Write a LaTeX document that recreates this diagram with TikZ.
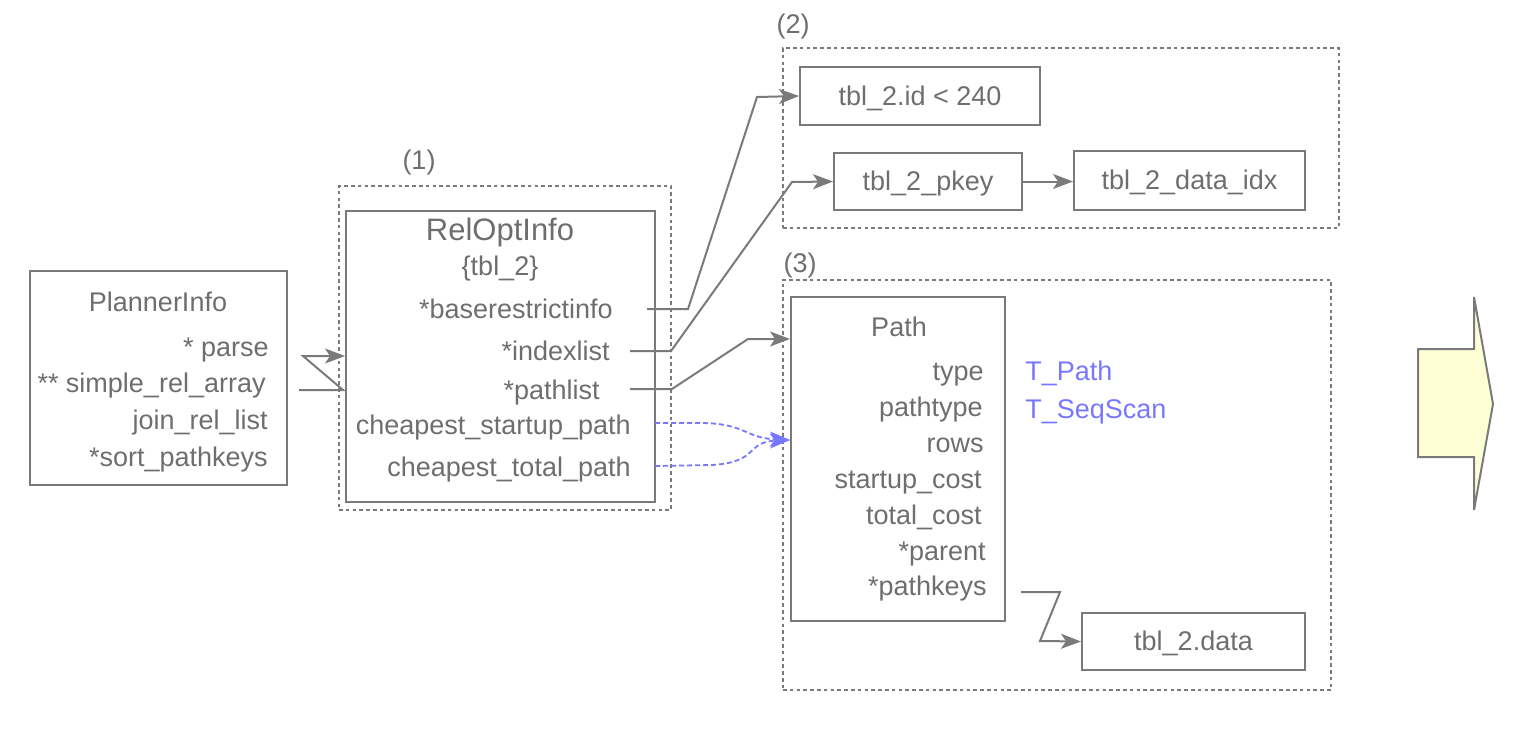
\documentclass[tikz,border=0pt]{standalone}
\usepackage{fontspec}
\setmainfont{Liberation Sans}
\usetikzlibrary{arrows.meta,fit}
\definecolor{gr}{HTML}{7A7A7A}
\definecolor{tx}{HTML}{6E6E6E}
\definecolor{bl}{HTML}{7777FF}
\definecolor{yl}{HTML}{FFFFD6}
\begin{document}
\begin{tikzpicture}[x=0.5pt,y=-0.5pt,
  box/.style={draw=gr, line width=1pt, inner sep=0pt},
  grp/.style={draw=gr, line width=0.65pt, dash pattern=on 1.8pt off 1.6pt, inner sep=0pt},
  lbl/.style={text=tx, font=\fontsize{13.5}{16}\selectfont, inner sep=0pt, text height=0.72em, text depth=0.2em, yshift=-2pt},
  bll/.style={lbl, text=bl},
  con/.style={draw=gr, line width=1pt, -{Stealth[length=10pt,width=7.5pt,inset=2.5pt]}},
  bcon/.style={draw=bl, line width=0.9pt, dash pattern=on 2.5pt off 1.5pt, -{Stealth[length=10pt,width=7.5pt,inset=2.5pt]}}]
\useasboundingbox (0,0) rectangle (1530,744);

% PlannerInfo
\node[box, fit={(30,271)(287,485)}] (pi) {};
\node[lbl] (pit) at (158,302) {PlannerInfo};
\node[lbl, anchor=east] (pi1) at (269,347) {* parse};
\node[lbl, anchor=east] (pi2) at (266,383) {** simple\_rel\_array};
\node[lbl, anchor=east] (pi3) at (268,420) {join\_rel\_list};
\node[lbl, anchor=east] (pi4) at (268,457) {*sort\_pathkeys};

% group (1)
\node[grp, fit={(339,186)(671,510)}] (g1) {};
\node[lbl] (g1l) at (419,160) {(1)};
\node[box, fit={(346,211)(655,502)}] (rel) {};
\node[lbl, font=\fontsize{15.5}{18}\selectfont] (relt) at (500,231) {RelOptInfo};
\node[lbl] (relb) at (500,266) {\{tbl\_2\}};
\node[lbl, anchor=east] (r1) at (613,309) {*baserestrictinfo};
\node[lbl, anchor=east] (r2) at (610,351) {*indexlist};
\node[lbl, anchor=east] (r3) at (600,390) {*pathlist};
\node[lbl, anchor=east] (r4) at (631,425) {cheapest\_startup\_path};
\node[lbl, anchor=east] (r5) at (631,467) {cheapest\_total\_path};

% group (2)
\node[grp, fit={(783,48)(1339,228)}] (g2) {};
\node[lbl] (g2l) at (793,24) {(2)};
\node[box, fit={(800,67)(1040,125)}] (rid) {};
\node[lbl] at (rid.center) {tbl\_2.id < 240};
\node[box, fit={(834,153)(1022,210)}] (pk) {};
\node[lbl] at (pk.center) {tbl\_2\_pkey};
\node[box, fit={(1074,151)(1305,210)}] (di) {};
\node[lbl] at (di.center) {tbl\_2\_data\_idx};

% group (3)
\node[grp, fit={(783,280)(1331,690)}] (g3) {};
\node[lbl] (g3l) at (800,263) {(3)};
\node[box, fit={(791,297)(1005,621)}] (path) {};
\node[lbl] (patht) at (899,327) {Path};
\node[lbl, anchor=east] (p1) at (984,371) {type};
\node[lbl, anchor=east] (p2) at (983,407) {pathtype};
\node[lbl, anchor=east] (p3) at (984,443) {rows};
\node[lbl, anchor=east] (p4) at (982,479) {startup\_cost};
\node[lbl, anchor=east] (p5) at (982,515) {total\_cost};
\node[lbl, anchor=east] (p6) at (986,551) {*parent};
\node[lbl, anchor=east] (p7) at (987,586) {*pathkeys};
\node[bll, anchor=west] (v1) at (1025,371) {T\_Path};
\node[bll, anchor=west] (v2) at (1025,409) {T\_SeqScan};
\node[box, fit={(1082,613)(1305,670)}] (dat) {};
\node[lbl] at (dat.center) {tbl\_2.data};

% connectors
\coordinate (c0) at (299,390);
\draw[con] (c0) -- (343,390) -- (303,356) -- (rel.west |- 0,356);
\coordinate (c1) at (647,309);
\draw[con] (c1) -- (688,309) -- (757,97) -- (rid.west);
\coordinate (c2) at (630,351);
\draw[con] (c2) -- (671,351) -- (792,182) -- (pk.west);
\coordinate (c3) at (630,389);
\draw[con] (c3) -- (672,389) -- (748,339) -- (path.west |- 0,339);
\draw[con] (pk.east) -- (di.west |- pk.east);
\coordinate (c4) at (1021,592);
\draw[con] (c4) -- (1060,592) -- (1040,641) -- (dat.west);
\coordinate (c5) at (655,423);
\coordinate (c6) at (655,466);
\coordinate (tp) at (path.west |- 0,440);
\draw[bcon] (c5) -- (700,423) .. controls (745,423) and (745,438) .. (tp);
\draw[bcon] (c6) -- (712,465) .. controls (760,462) and (745,442) .. (tp);

% big arrow
\draw[draw=gr, fill=yl, line width=1pt] (1418,349) -- (1474,349) -- (1474,297) -- (1493,404) -- (1474,510) -- (1474,457) -- (1418,457) -- cycle;
\end{tikzpicture}
\end{document}
